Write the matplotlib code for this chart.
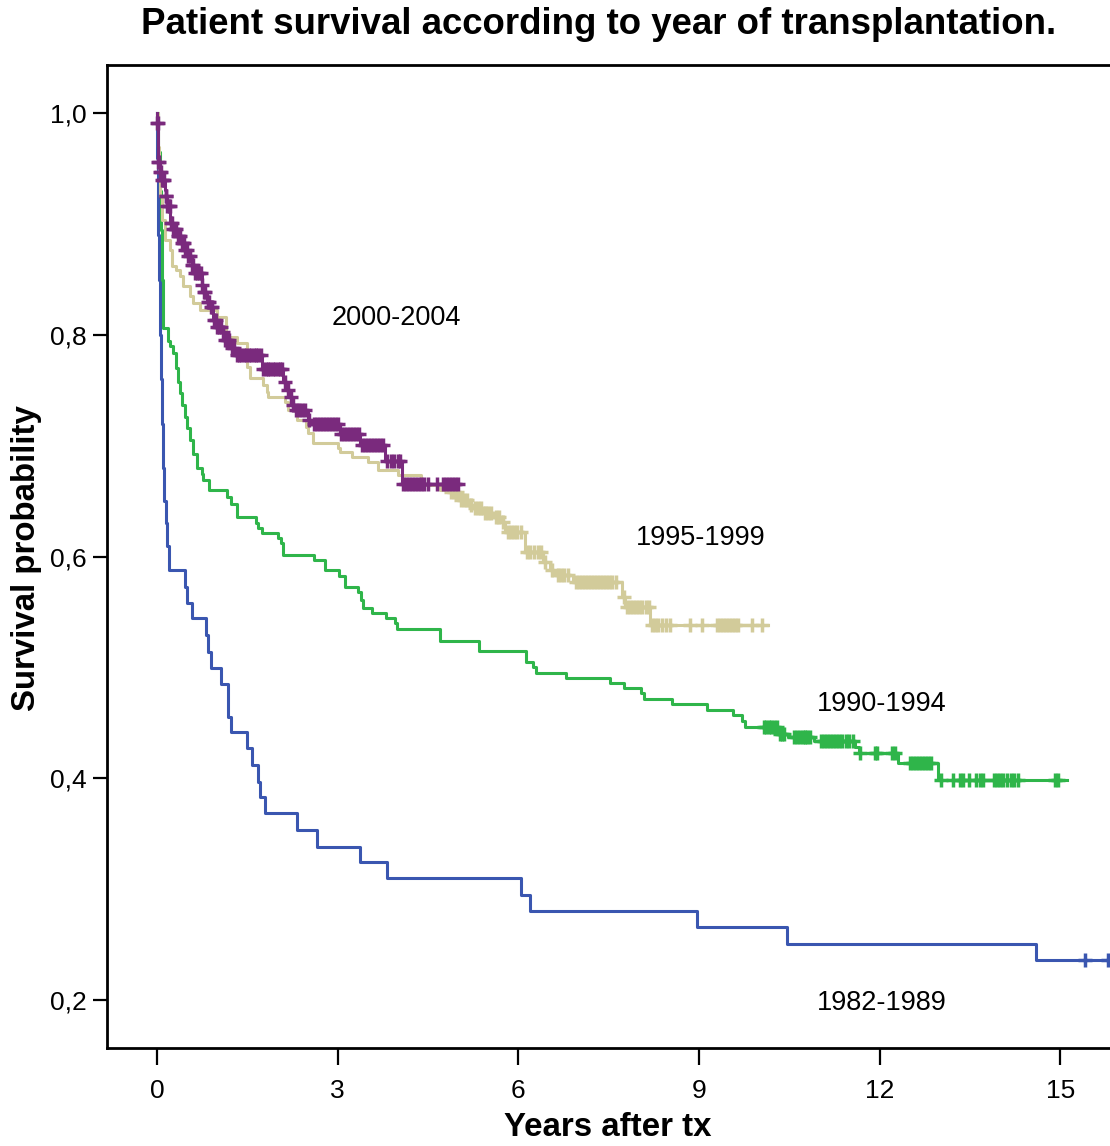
import numpy as np
import matplotlib
matplotlib.use("Agg")
import matplotlib.pyplot as plt

plt.rcParams['font.family'] = ['Liberation Sans', 'DejaVu Sans']

# ---------------- data ----------------
groups = ["1982-1989", "1990-1994", "1995-1999", "2000-2004"]

blue_t = [0, 0.005, 0.01, 0.02, 0.03, 0.045, 0.06, 0.08, 0.10, 0.12, 0.14, 0.165, 0.20,
          0.46, 0.49, 0.583, 0.81, 0.844, 0.889, 1.055, 1.18, 1.226, 1.487, 1.57, 1.68,
          1.71, 1.79, 2.33, 2.65, 3.37, 3.81, 6.04, 6.19, 8.96, 10.46, 14.6]
blue_s = [1.0, 0.96, 0.93, 0.89, 0.85, 0.80, 0.76, 0.72, 0.68, 0.65, 0.63, 0.61, 0.588,
          0.5727, 0.5582, 0.5447, 0.5294, 0.514, 0.4995, 0.485, 0.4554, 0.4419, 0.4274,
          0.412, 0.3967, 0.3832, 0.3688, 0.3534, 0.338, 0.3246, 0.3101, 0.2948, 0.2806,
          0.266, 0.2505, 0.2361]
blue_end = 16.5
blue_cens = [15.41, 15.8]

green_t = [0, 0.02, 0.04, 0.06, 0.08, 0.101, 0.184, 0.22, 0.267, 0.31, 0.35, 0.38, 0.407,
           0.462, 0.50, 0.545, 0.60, 0.656, 0.739, 0.766, 0.866, 1.164, 1.22, 1.33, 1.641,
           1.68, 1.736, 2.01, 2.05, 2.095, 2.605, 2.787, 3.025, 3.12, 3.34, 3.38, 3.42,
           3.56, 3.80, 3.955, 3.985, 4.70, 5.35, 6.126, 6.24, 6.30, 6.786, 7.52, 7.755,
           8.03, 8.086, 8.547, 9.138, 9.57, 9.71, 9.764, 10.31, 10.48, 10.91, 11.59,
           11.65, 12.31, 12.975]
green_s = [1.0, 0.965, 0.93, 0.895, 0.85, 0.806, 0.795, 0.79, 0.7835, 0.77, 0.758, 0.748,
           0.737, 0.726, 0.716, 0.705, 0.693, 0.680, 0.675, 0.669, 0.660, 0.654, 0.648,
           0.636, 0.630, 0.6256, 0.621, 0.6166, 0.612, 0.602, 0.597, 0.588, 0.5826, 0.573,
           0.5684, 0.561, 0.554, 0.549, 0.5444, 0.540, 0.5345, 0.524, 0.515, 0.505,
           0.5008, 0.495, 0.491, 0.4863, 0.4813, 0.4768, 0.4713, 0.4668, 0.4617, 0.4572,
           0.4518, 0.4466, 0.4405, 0.4375, 0.4335, 0.428, 0.4226, 0.4136, 0.3986]
green_end = 15.11
green_cens = [10.08, 10.12, 10.16, 10.2, 10.25, 10.29, 10.34, 10.38, 10.42, 10.58, 10.63,
              10.68, 10.72, 10.76, 10.8, 10.85, 11.02, 11.07, 11.12, 11.17, 11.22, 11.27,
              11.33, 11.38, 11.44, 11.5, 11.55, 11.68, 11.92, 11.96, 12.2, 12.26, 12.5,
              12.55, 12.6, 12.65, 12.7, 12.75, 12.8, 12.86, 13.02, 13.22, 13.33, 13.38,
              13.48, 13.6, 13.66, 13.72, 13.9, 13.95, 14.0, 14.05, 14.12, 14.18, 14.24,
              14.3, 14.91, 14.96]

tan_t = [0, 0.013, 0.03, 0.047, 0.075, 0.13, 0.213, 0.24, 0.31, 0.38, 0.43, 0.545, 0.60,
         0.71, 0.99, 1.15, 1.32, 1.49, 1.54, 1.76, 1.82, 1.845, 2.12, 2.18, 2.32, 2.48,
         2.51, 2.59, 3.01, 3.04, 3.23, 3.51, 3.67, 4.0, 4.39, 4.70, 4.86, 5.03, 5.2, 5.25,
         5.42, 5.58, 5.72, 5.78, 6.11, 6.41, 6.52, 6.61, 6.91, 7.72, 7.77, 8.19]
tan_s = [1.0, 0.97, 0.95, 0.925, 0.904, 0.886, 0.877, 0.862, 0.859, 0.853, 0.844, 0.835,
         0.829, 0.8226, 0.8165, 0.7985, 0.7925, 0.7714, 0.761, 0.755, 0.749, 0.7443, 0.740,
         0.7323, 0.7233, 0.7173, 0.7113, 0.7023, 0.6978, 0.6947, 0.690, 0.6857, 0.678,
         0.6737, 0.6647, 0.660, 0.6585, 0.651, 0.6467, 0.6437, 0.639, 0.636, 0.6316,
         0.6226, 0.6045, 0.5955, 0.588, 0.5835, 0.5775, 0.564, 0.555, 0.5384]
tan_end = 10.15
tan_cens = [4.88, 4.93, 4.98, 5.05, 5.1, 5.15, 5.22, 5.28, 5.33, 5.38, 5.45, 5.5, 5.55,
            5.62, 5.67, 5.75, 5.82, 5.87, 5.93, 5.98, 6.05, 6.14, 6.2, 6.26, 6.32, 6.37,
            6.45, 6.55, 6.65, 6.7, 6.76, 6.82, 6.95, 7.0, 7.05, 7.1, 7.15, 7.2, 7.25, 7.3,
            7.35, 7.4, 7.45, 7.5, 7.55, 7.62, 7.75, 7.8, 7.85, 7.9, 7.95, 8.0, 8.06, 8.12,
            8.17, 8.22, 8.27, 8.32, 8.38, 8.45, 8.52, 8.85, 9.05, 9.3, 9.35, 9.4, 9.45,
            9.5, 9.55, 9.6, 9.65, 9.88, 10.05]

purple_t = [0, 0.005, 0.013, 0.018, 0.047, 0.075, 0.13, 0.14, 0.158, 0.213, 0.267, 0.324,
            0.407, 0.462, 0.517, 0.573, 0.628, 0.739, 0.766, 0.822, 0.877, 0.932, 0.988,
            1.071, 1.126, 1.238, 1.29, 1.74, 2.095, 2.15, 2.2, 2.23, 2.29, 2.51, 2.57,
            3.04, 3.37, 3.78, 4.06]
purple_s = [1.0, 0.991, 0.981, 0.956, 0.947, 0.940, 0.931, 0.925, 0.916, 0.901, 0.896,
            0.889, 0.883, 0.877, 0.871, 0.863, 0.856, 0.845, 0.839, 0.830, 0.8255, 0.8135,
            0.8075, 0.803, 0.7955, 0.788, 0.782, 0.769, 0.758, 0.750, 0.744, 0.737, 0.732,
            0.723, 0.720, 0.711, 0.701, 0.686, 0.666]
purple_end = 5.03
purple_cens = [0.005, 0.01, 0.02, 0.03, 0.05, 0.06, 0.08, 0.1, 0.12, 0.14, 0.15, 0.17,
               0.19, 0.21, 0.23, 0.25, 0.27, 0.29, 0.31, 0.34, 0.36, 0.38, 0.41, 0.43,
               0.45, 0.47, 0.5, 0.52, 0.55, 0.58, 0.6, 0.63, 0.66, 0.69, 0.72, 0.75, 0.78,
               0.8, 0.84, 0.86, 0.89, 0.91, 0.94, 0.97, 1.0, 1.03, 1.06, 1.09, 1.13, 1.16,
               1.2, 1.24, 1.27, 1.32, 1.36, 1.4, 1.44, 1.48, 1.52, 1.56, 1.6, 1.64, 1.68,
               1.72, 1.76, 1.8, 1.84, 1.88, 1.92, 1.96, 2.0, 2.04, 2.08, 2.12, 2.17, 2.22,
               2.26, 2.3, 2.35, 2.4, 2.45, 2.53, 2.6, 2.65, 2.7, 2.75, 2.8, 2.85, 2.9, 2.95,
               3.0, 3.06, 3.1, 3.15, 3.2, 3.25, 3.3, 3.35, 3.4, 3.45, 3.5, 3.55, 3.6, 3.65,
               3.7, 3.75, 3.82, 3.88, 3.94, 4.0, 4.04, 4.08, 4.13, 4.18, 4.23, 4.28, 4.33,
               4.38, 4.43, 4.5, 4.65, 4.75, 4.8, 4.85, 4.9, 4.95, 5.0]

label_x = [12.04, 12.04, 9.03, 3.97]
label_y = [0.1974, 0.467, 0.6167, 0.8153]

x_ticks = [0, 3, 6, 9, 12, 15]
y_ticks = [0.2, 0.4, 0.6, 0.8, 1.0]
y_ticklabels = ["0,2", "0,4", "0,6", "0,8", "1,0"]

colors = ["#3a56b0", "#2fb54a", "#d2cb9a", "#7a2a7d"]

# ---------------- figure ----------------
W, H = 1110, 1146
fig = plt.figure(figsize=(W / 100, H / 100), dpi=100)
ax = fig.add_axes([106.5 / W, 1 - 1048 / H, (1120.4 - 106.5) / W, (1048 - 65) / H])
ax.set_xlim(-0.842, 16.0)
ax.set_ylim(0.1568, 1.0436)

series = [
    (blue_t, blue_s, blue_end, blue_cens),
    (green_t, green_s, green_end, green_cens),
    (tan_t, tan_s, tan_end, tan_cens),
    (purple_t, purple_s, purple_end, purple_cens),
]
for i, (t, s, end, cens) in enumerate(series):
    t = np.asarray(t, float)
    s = np.asarray(s, float)
    x = np.append(t, end)
    y = np.append(s, s[-1])
    ax.step(x, y, where='post', color=colors[i], lw=2.2, zorder=2 + i, clip_on=True)
    c = np.asarray(cens, float)
    idx = np.searchsorted(t, c, side='right') - 1
    ax.plot(c, s[idx], ls='none', marker='+', ms=10, mew=2.5, color=colors[i],
            zorder=2 + i)

for g, lx, ly in zip(groups, label_x, label_y):
    ax.text(lx, ly, g, fontsize=19.5, ha='center', va='center', color='black', zorder=10)

ax.set_xticks(x_ticks)
ax.set_xticklabels([str(v) for v in x_ticks])
ax.set_yticks(y_ticks)
ax.set_yticklabels(y_ticklabels)
ax.tick_params(axis='x', length=12, width=1.6, pad=10, labelsize=19)
ax.tick_params(axis='y', length=10, width=1.6, pad=4, labelsize=19)
for sp in ax.spines.values():
    sp.set_linewidth(2.0)

fig.text(598.5 / W, 1 - 25 / H, "Patient survival according to year of transplantation.",
         fontsize=26.4, fontweight='bold', ha='center', va='center')
fig.text(608 / W, 1 - 1128 / H, "Years after tx", fontsize=23.8, fontweight='bold',
         ha='center', va='center')
fig.text(27 / W, 1 - 558 / H, "Survival probability", fontsize=23.8, fontweight='bold',
         ha='center', va='center', rotation=90)

fig.savefig("out.png", dpi=100)
